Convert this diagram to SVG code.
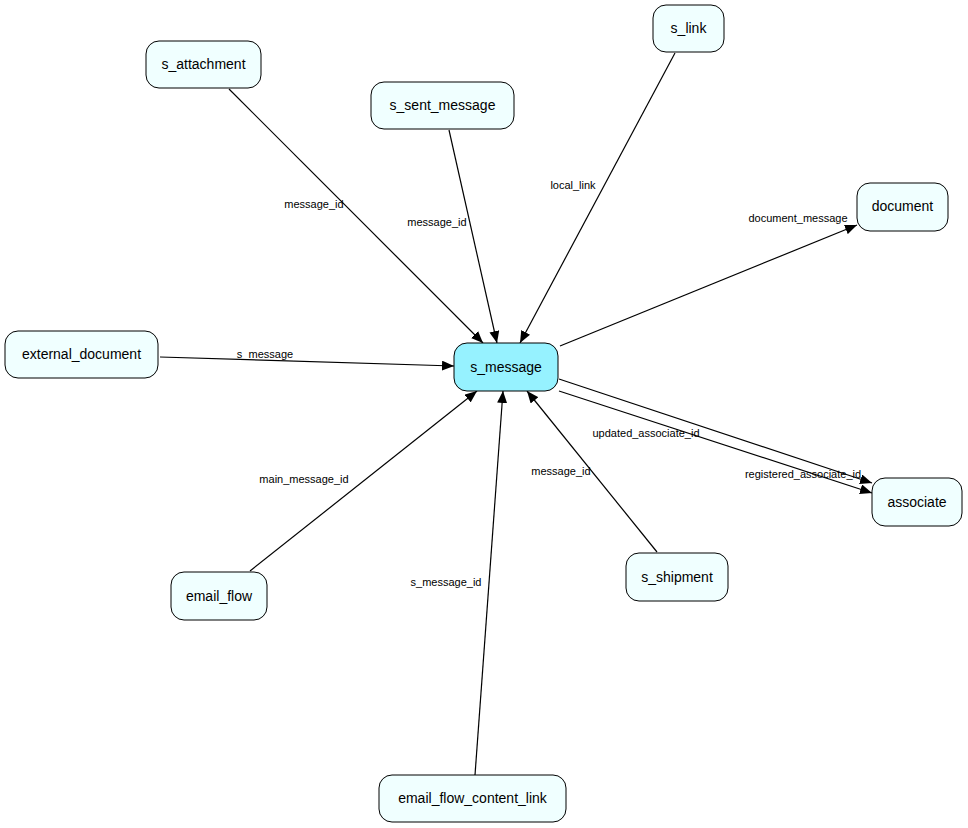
<svg xmlns="http://www.w3.org/2000/svg" width="968" height="828" viewBox="0 0 968 828">
<style>
.n rect{fill:#F0FFFF;stroke:#000;stroke-width:1}
.n text{font-family:"Liberation Sans",Arial,sans-serif;font-size:14px;text-anchor:middle}
#s_message rect{fill:#96F2FF}
.e line{stroke:#000;stroke-width:1.2}
.l{font-family:"Liberation Sans",Arial,sans-serif;font-size:11px;text-anchor:middle}
</style>
<defs><marker id="a" viewBox="0 0 12 10" refX="12" refY="5" markerWidth="12" markerHeight="10" markerUnits="userSpaceOnUse" orient="auto"><path d="M0,0L12,5L0,10z" fill="#000"/></marker></defs>
<rect width="968" height="828" fill="#fff"/>
<g class="e" marker-end="url(#a)">
<line x1="229" y1="89" x2="483" y2="343" marker-end="url(#a)"/>
<line x1="449" y1="130" x2="497" y2="343" marker-end="url(#a)"/>
<line x1="675" y1="53" x2="520" y2="343" marker-end="url(#a)"/>
<line x1="560" y1="346" x2="857" y2="225" marker-end="url(#a)"/>
<line x1="160" y1="357" x2="454" y2="366" marker-end="url(#a)"/>
<line x1="250" y1="571" x2="477" y2="391" marker-end="url(#a)"/>
<line x1="475" y1="775" x2="503" y2="391" marker-end="url(#a)"/>
<line x1="657" y1="552" x2="527" y2="391" marker-end="url(#a)"/>
<line x1="559" y1="379" x2="872" y2="483" marker-end="url(#a)"/>
<line x1="559" y1="391" x2="872" y2="493" marker-end="url(#a)"/>
<text class="l" x="314" y="208">message_id</text>
<text class="l" x="437" y="226">message_id</text>
<text class="l" x="573" y="189">local_link</text>
<text class="l" x="798" y="222">document_message</text>
<text class="l" x="265" y="358">s_message</text>
<text class="l" x="304" y="483">main_message_id</text>
<text class="l" x="446" y="586">s_message_id</text>
<text class="l" x="561" y="475">message_id</text>
<text class="l" x="646" y="437">updated_associate_id</text>
<text class="l" x="803" y="478">registered_associate_id</text>
</g>
<g id="s_attachment" class="n"><rect x="146" y="41" width="115" height="47" rx="13"/><text x="203.5" y="69">s_attachment</text></g>
<g id="s_sent_message" class="n"><rect x="371" y="82" width="143" height="47" rx="13"/><text x="442.5" y="110">s_sent_message</text></g>
<g id="s_link" class="n"><rect x="653" y="5" width="71" height="47" rx="13"/><text x="688.5" y="33">s_link</text></g>
<g id="document" class="n"><rect x="857" y="183" width="91" height="48" rx="13"/><text x="902.5" y="211">document</text></g>
<g id="external_document" class="n"><rect x="5" y="331" width="153" height="47" rx="13"/><text x="81.5" y="359">external_document</text></g>
<g id="s_message" class="n"><rect x="454" y="343" width="104" height="48" rx="13"/><text x="506" y="372">s_message</text></g>
<g id="associate" class="n"><rect x="872" y="478" width="90" height="48" rx="13"/><text x="917" y="507">associate</text></g>
<g id="s_shipment" class="n"><rect x="626" y="553" width="102" height="48" rx="13"/><text x="677" y="582">s_shipment</text></g>
<g id="email_flow" class="n"><rect x="171" y="572" width="96" height="48" rx="13"/><text x="219" y="601">email_flow</text></g>
<g id="email_flow_content_link" class="n"><rect x="379" y="775" width="187" height="47" rx="13"/><text x="472.5" y="803">email_flow_content_link</text></g>
</svg>
